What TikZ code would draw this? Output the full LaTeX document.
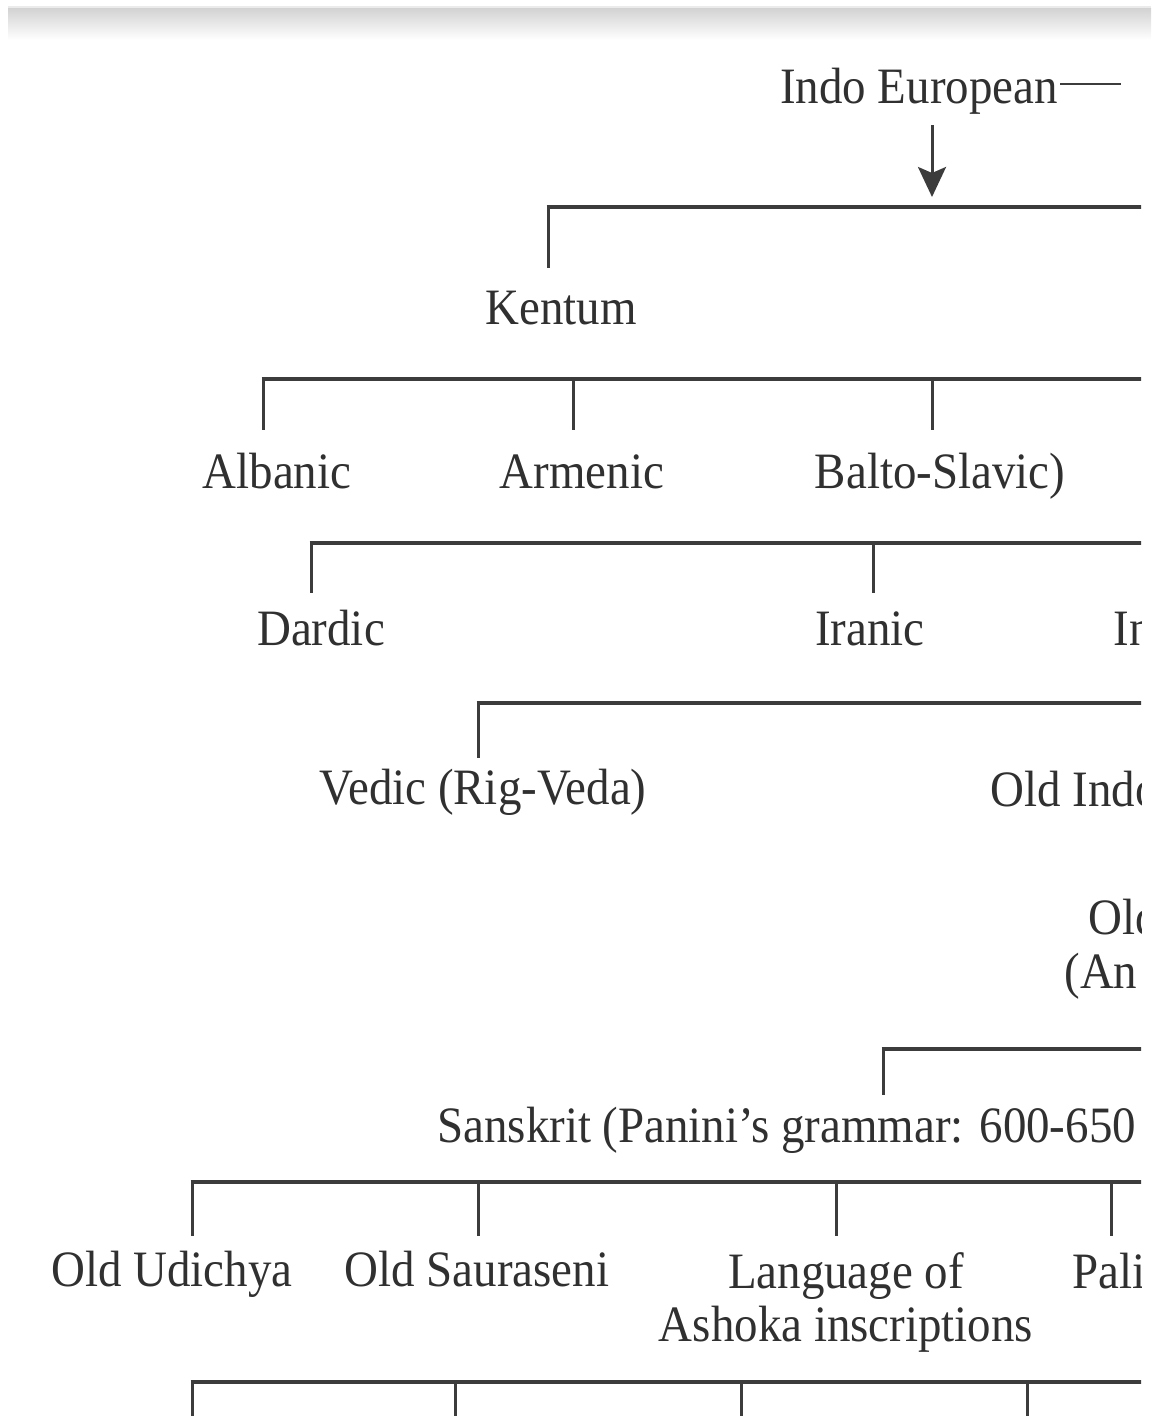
\documentclass[tikz,border=0pt]{standalone}
\usepackage{fontspec}
\setmainfont{Liberation Serif}[FakeStretch=0.92]
\usepackage{xcolor}
\usetikzlibrary{arrows.meta}
\definecolor{inkgray}{HTML}{303030}
\definecolor{linegray}{HTML}{3C3C3C}

\begin{document}
\begin{tikzpicture}[x=0.5pt, y=-0.5pt, >={Stealth[length=15pt,width=14pt,inset=3pt]},
    lang/.style={inner sep=0pt, anchor=base, text=inkgray, font=\fontsize{25.5}{26.5}\selectfont},
    langl/.style={lang, anchor=base west},
    bus/.style={draw=linegray, line width=2pt},
    drop/.style={draw=linegray, line width=1.5pt}]
  \useasboundingbox (0,0) rectangle (1151,1416);
  \shade[top color=black!17, bottom color=white] (8,9) rectangle (1151,40);
  \draw[black!8, line width=0.6pt] (8,7) -- (1151,7);
  \begin{scope}
    \clip (0,0) rectangle (1141,1416);
    \node[lang] (ie) at (919,104) {Indo European};
    \node[lang] (kentum) at (561,325) {Kentum};
    \node[lang] (albanic) at (277,488) {Albanic};
    \node[lang] (armenic) at (582,488) {Armenic};
    \node[lang] (balto) at (940,488) {Balto-Slavic)};
    \node[lang] (dardic) at (321,645) {Dardic};
    \node[lang] (iranic) at (870,645) {Iranic};
    \node[langl] (indic) at (1113,645) {In};
    \node[lang] (vedic) at (483,804) {Vedic (Rig-Veda)};
    \node[langl] (oldindo) at (990,806) {Old Indo};
    \node[langl] (oldtop) at (1088,934) {Old};
    \node[langl] (oldbot) at (1064,988) {(An};
    \node[langl] (sanskrit) at (437,1142) {Sanskrit (Panini’s grammar: 600-650};
    \node[lang] (udichya) at (172,1286) {Old Udichya};
    \node[lang] (sauraseni) at (477,1286) {Old Sauraseni};
    \node[lang, anchor=center, align=center] (ashoka) at (846,1302) {Language of\\Ashoka inscriptions};
    \node[langl] (pali) at (1072,1288) {Pali};

    \coordinate (ieend) at (1121,84);
    \coordinate (split) at (932,207);
    \draw[linegray, line width=1pt] ([xshift=1pt]ie.east |- ieend) -- (ieend);
    \draw[drop,->,shorten <=5pt,shorten >=5pt] (ie.south -| split) -- (split);

    \draw[bus] (546.5,207) -- (1160,207);
    \draw[drop] (548,207) -- (548,268);

    \draw[bus] (261.5,379) -- (1160,379);
    \draw[drop] (263,379) -- (263,430);
    \draw[drop] (573,379) -- (573,430);
    \draw[drop] (932,379) -- (932,430);

    \draw[bus] (309.5,543) -- (1160,543);
    \draw[drop] (311,543) -- (311,593);
    \draw[drop] (873,543) -- (873,593);

    \draw[bus] (476.5,703) -- (1160,703);
    \draw[drop] (478,703) -- (478,758);

    \draw[bus] (881.5,1049) -- (1160,1049);
    \draw[drop] (883,1049) -- (883,1095);

    \draw[bus] (190.5,1182) -- (1160,1182);
    \draw[drop] (192,1182) -- (192,1236);
    \draw[drop] (478,1182) -- (478,1236);
    \draw[drop] (836,1182) -- (836,1236);
    \draw[drop] (1111,1182) -- (1111,1236);

    \draw[bus] (190.5,1382) -- (1160,1382);
    \draw[drop] (192,1382) -- (192,1420);
    \draw[drop] (455,1382) -- (455,1420);
    \draw[drop] (741,1382) -- (741,1420);
    \draw[drop] (1027,1382) -- (1027,1420);
  \end{scope}
\end{tikzpicture}
\end{document}
